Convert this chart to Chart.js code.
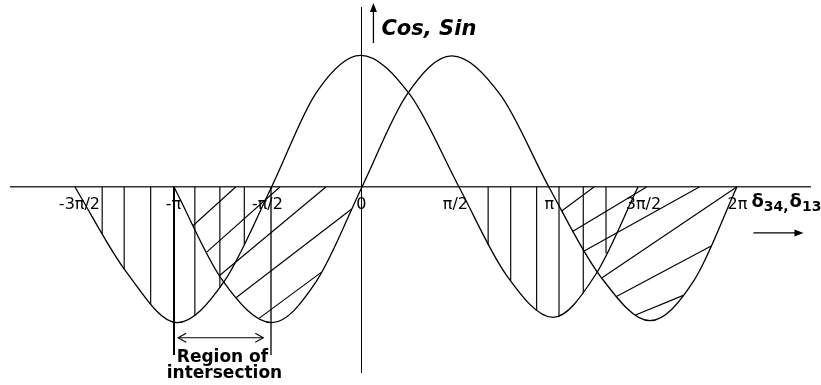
<!DOCTYPE html>
<html>
<head>
<meta charset="utf-8">
<title>Cos, Sin</title>
<script src="https://cdn.jsdelivr.net/npm/chart.js@4.4.1/dist/chart.umd.min.js"></script>
<style>
  html, body { margin: 0; padding: 0; background: #fff; }
  #wrap { width: 821px; height: 385px; }
</style>
</head>
<body>
<div id="wrap"><canvas id="chart" width="821" height="385"></canvas></div>
<script>
// x is in multiples of pi, y in units of the amplitude
const tickVals = [-1.5, -1, -0.5, 0, 0.5, 1, 1.5, 2];
const tickText = ['-3π/2', '-π', '-π/2', '0', 'π/2', 'π', '3π/2', '2π'];

// zeros, quarter points and extremes of each curve
const cosX = [-1.524, -1.25, -0.981, -0.73, -0.478, -0.24, -0.004, 0.26, 0.519, 0.77, 1.019, 1.245, 1.471];
const cosY = [0, -0.64, -1.02, -0.71, 0, 0.71, 0.99, 0.69, 0, -0.66, -0.98, -0.66, 0];

const sinX = [-0.997, -0.74, -0.476, -0.24, 0.003, 0.24, 0.48, 0.74, 0.997, 1.27, 1.535, 1.77, 1.997];
const sinY = [0, -0.70, -1.02, -0.71, 0, 0.69, 0.985, 0.69, 0, -0.67, -1.005, -0.70, 0];

// vertical hatching under the cos troughs: from the axis down to the curve
const cosHatchX = [-1.379, -1.262, -1.121, -0.886, -0.753, -0.623, 0.674, 0.794, 0.932, 1.051, 1.180, 1.301];
const cosHatchY = [-0.352, -0.62, -0.882, -0.97, -0.76, -0.435, -0.435, -0.703, -0.925, -0.973, -0.80, -0.50];

// slanted hatching inside the sin troughs
const sinHatchFrom = [[-0.895, -0.29], [-0.823, -0.49], [-0.756, -0.667], [-0.669, -0.835], [-0.545, -0.988],
  [1.065, -0.18], [1.123, -0.335], [1.180, -0.485], [1.278, -0.685], [1.354, -0.825], [1.455, -0.965]];
const sinHatchTo = [[-0.669, 0], [-0.434, 0], [-0.189, 0], [-0.052, -0.165], [-0.212, -0.64],
  [1.237, 0], [1.517, 0], [1.797, 0], [1.996, 0], [1.863, -0.442], [1.712, -0.815]];

// region of intersection: -pi .. -pi/2
const regionX = [-0.997, -0.481];
const regionLow = -1.263;
const regionArrow = [-0.975, -0.522];
const regionArrowY = -1.133;

const pts = (xs, ys) => xs.map((x, i) => ({ x: x, y: ys[i] }));
const line = (data, width) => ({
  data: data, showLine: true, borderColor: '#000', borderWidth: width,
  pointRadius: 0, pointHoverRadius: 0, fill: false, tension: 0
});

const datasets = [
  Object.assign(line(pts(cosX, cosY), 1.3), { cubicInterpolationMode: 'monotone' }),
  Object.assign(line(pts(sinX, sinY), 1.3), { cubicInterpolationMode: 'monotone' })
];
cosHatchX.forEach((x, i) => datasets.push(line([{ x: x, y: 0 }, { x: x, y: cosHatchY[i] }], 1.15)));
sinHatchFrom.forEach((p, i) => datasets.push(line([{ x: p[0], y: p[1] }, { x: sinHatchTo[i][0], y: sinHatchTo[i][1] }], 1.15)));
regionX.forEach((x, i) => datasets.push(line([{ x: x, y: 0 }, { x: x, y: regionLow }], i === 0 ? 2 : 1.3)));

function arrowHead(ctx, x, y, dx, dy, len, half, filled) {
  // tip at (x, y), pointing along (dx, dy)
  const bx = x - dx * len, by = y - dy * len;
  ctx.beginPath();
  ctx.moveTo(bx - dy * half, by + dx * half);
  ctx.lineTo(x, y);
  ctx.lineTo(bx + dy * half, by - dx * half);
  if (filled) { ctx.closePath(); ctx.fill(); } else { ctx.stroke(); }
}

const notes = {
  id: 'notes',
  afterDraw(chart) {
    const ctx = chart.ctx;
    const sx = chart.scales.x, sy = chart.scales.y;
    const x0 = sx.getPixelForValue(0), y0 = sy.getPixelForValue(0);
    ctx.save();
    ctx.strokeStyle = '#000';
    ctx.fillStyle = '#000';
    ctx.lineWidth = 1.3;

    // upward arrow and title next to the vertical axis
    const ax = x0 + 12;
    ctx.beginPath();
    ctx.moveTo(ax, 43);
    ctx.lineTo(ax, 10);
    ctx.stroke();
    arrowHead(ctx, ax, 3, 0, -1, 9, 3.5, true);
    ctx.font = 'italic bold 21px "DejaVu Sans"';
    ctx.textBaseline = 'alphabetic';
    ctx.fillText('Cos, Sin', x0 + 20, 35);

    // δ34, δ13 with the arrow under it
    const right = sx.getPixelForValue(2);
    let tx = right + 14;
    const base = y0 + 20;
    const big = 'bold 18px "DejaVu Sans"', small = 'bold 14px "DejaVu Sans"';
    [['δ', big, 0], ['34,', small, 4], ['δ', big, 0], ['13', small, 4]].forEach(p => {
      ctx.font = p[1];
      ctx.fillText(p[0], tx, base + p[2]);
      tx += ctx.measureText(p[0]).width + (p[0] === '34,' ? 1 : 0);
    });
    const ay = y0 + 46;
    ctx.beginPath();
    ctx.moveTo(right + 16, ay);
    ctx.lineTo(right + 60, ay);
    ctx.stroke();
    arrowHead(ctx, right + 66, ay, 1, 0, 9, 3.5, true);

    // double arrow between the region lines
    const ry = sy.getPixelForValue(regionArrowY);
    const r0 = sx.getPixelForValue(regionArrow[0]), r1 = sx.getPixelForValue(regionArrow[1]);
    ctx.lineWidth = 1.1;
    ctx.beginPath();
    ctx.moveTo(r0, ry);
    ctx.lineTo(r1, ry);
    ctx.stroke();
    arrowHead(ctx, r0, ry, -1, 0, 8, 4.5, false);
    arrowHead(ctx, r1, ry, 1, 0, 8, 4.5, false);

    const rc = (sx.getPixelForValue(regionX[0]) + sx.getPixelForValue(regionX[1])) / 2;
    ctx.font = 'bold 17px "DejaVu Sans"';
    ctx.textAlign = 'center';
    ctx.fillText('Region of', rc, ry + 24);
    ctx.fillText('intersection', rc + 2, ry + 40);
    ctx.restore();
  }
};

new Chart(document.getElementById('chart'), {
  type: 'scatter',
  data: { datasets: datasets },
  plugins: [notes],
  options: {
    responsive: false,
    animation: false,
    events: [],
    layout: { padding: { left: 11, right: 11, top: 7, bottom: 13 } },
    plugins: { legend: { display: false }, tooltip: { enabled: false } },
    scales: {
      x: {
        type: 'linear',
        min: -1.864,
        max: 2.386,
        position: { y: 0 },
        grid: { display: false, drawTicks: false },
        border: { display: true, color: '#333', width: 1.5 },
        afterBuildTicks: s => { s.ticks = tickVals.map(v => ({ value: v })); },
        afterFit: s => { s.height = 0; },
        ticks: {
          autoSkip: false,
          maxRotation: 0,
          padding: 8,
          color: '#000',
          font: { family: 'DejaVu Sans', size: 16 },
          callback: (v, i) => tickText[i]
        }
      },
      y: {
        type: 'linear',
        min: -1.391,
        max: 1.353,
        position: { x: 0 },
        grid: { display: false, drawTicks: false },
        border: { display: true, color: '#000', width: 1 },
        ticks: { display: false },
        afterFit: s => { s.width = 0; }
      }
    }
  }
});
</script>
</body>
</html>
